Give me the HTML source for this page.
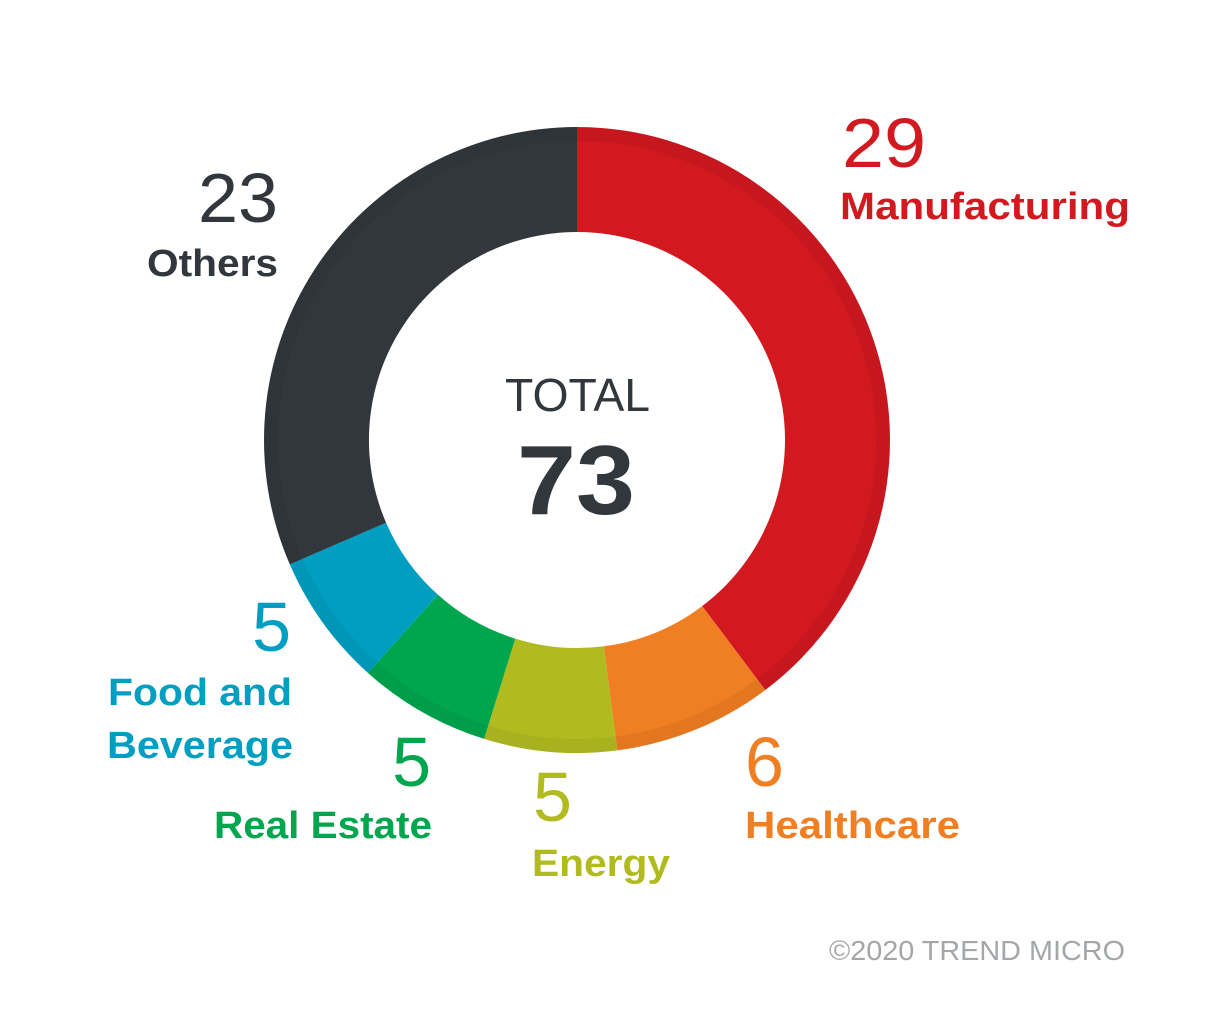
<!DOCTYPE html>
<html><head><meta charset="utf-8"><style>
html,body{margin:0;padding:0;background:#fff;}
svg{display:block;}
text{font-family:"Liberation Sans",Arial,sans-serif;}
</style></head><body>
<svg width="1230" height="1023" viewBox="0 0 1230 1023" xmlns="http://www.w3.org/2000/svg">
<rect width="1230" height="1023" fill="#fff"/>
<g>
<path d="M577,127 A313,313 0 0 1 765.3,690 L702.2,606.1 A208,208 0 0 0 577,232 Z" fill="#d21920"/>
<path d="M765.3,690 A313,313 0 0 1 617.3,750.4 L603.8,646.3 A208,208 0 0 0 702.2,606.1 Z" fill="#f07e22"/>
<path d="M617.3,750.4 A313,313 0 0 1 484.1,738.9 L515.3,638.6 A208,208 0 0 0 603.8,646.3 Z" fill="#b1bb20"/>
<path d="M484.1,738.9 A313,313 0 0 1 367.9,672.9 L438,594.8 A208,208 0 0 0 515.3,638.6 Z" fill="#00a64e"/>
<path d="M367.9,672.9 A313,313 0 0 1 289.8,564.4 L386.1,522.7 A208,208 0 0 0 438,594.8 Z" fill="#009fc2"/>
<path d="M289.8,564.4 A313,313 0 0 1 577,127 L577,232 A208,208 0 0 0 386.1,522.7 Z" fill="#32373d"/>
<circle cx="577" cy="440" r="306" fill="none" stroke="#000" stroke-opacity="0.05" stroke-width="14"/>
</g>
<text x="505" y="411" font-size="46" fill="#32373d" textLength="145" lengthAdjust="spacingAndGlyphs">TOTAL</text>
<text x="517" y="514" font-size="98" font-weight="bold" fill="#32373d" textLength="118" lengthAdjust="spacingAndGlyphs">73</text>

<text x="842" y="167" font-size="70" fill="#d21920" textLength="84" lengthAdjust="spacingAndGlyphs">29</text>
<text x="840" y="219" font-size="38" font-weight="bold" fill="#d21920" textLength="290" lengthAdjust="spacingAndGlyphs">Manufacturing</text>

<text x="198" y="222" font-size="70" fill="#32373d" textLength="80" lengthAdjust="spacingAndGlyphs">23</text>
<text x="147" y="276" font-size="38" font-weight="bold" fill="#32373d" textLength="131" lengthAdjust="spacingAndGlyphs">Others</text>

<text x="291" y="651" font-size="70" fill="#009fc2" text-anchor="end">5</text>
<text x="108" y="705" font-size="38" font-weight="bold" fill="#009fc2" textLength="184" lengthAdjust="spacingAndGlyphs">Food and</text>
<text x="107" y="758" font-size="38" font-weight="bold" fill="#009fc2" textLength="186" lengthAdjust="spacingAndGlyphs">Beverage</text>

<text x="431" y="786" font-size="70" fill="#00a64e" text-anchor="end">5</text>
<text x="214" y="838" font-size="38" font-weight="bold" fill="#00a64e" textLength="218" lengthAdjust="spacingAndGlyphs">Real Estate</text>

<text x="533" y="821" font-size="70" fill="#b1bb20">5</text>
<text x="532" y="876" font-size="38" font-weight="bold" fill="#b1bb20" textLength="138" lengthAdjust="spacingAndGlyphs">Energy</text>

<text x="745" y="786" font-size="70" fill="#f07e22">6</text>
<text x="745" y="838" font-size="38" font-weight="bold" fill="#f07e22" textLength="215" lengthAdjust="spacingAndGlyphs">Healthcare</text>

<text x="829" y="960" font-size="28" fill="#a3a7aa" textLength="296" lengthAdjust="spacingAndGlyphs">©2020 TREND MICRO</text>
</svg>
</body></html>
